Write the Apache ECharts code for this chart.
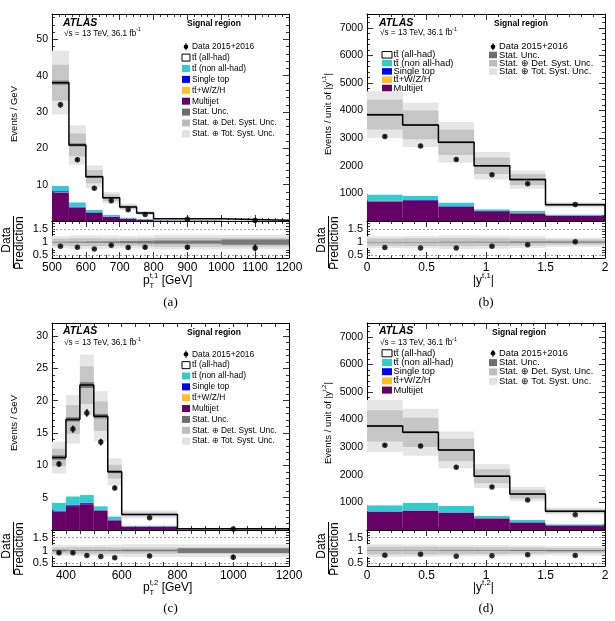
<!DOCTYPE html>
<html>
<head>
<meta charset="utf-8">
<script src="https://cdn.jsdelivr.net/npm/echarts@6/dist/echarts.min.js"></script>
<style>
html, body { margin: 0; padding: 0; background: #fff; }
#chart { width: 615px; height: 621px; }
</style>
</head>
<body>
<div id="chart"></div>
<script>
// (a) leading top pT
var aEdges = [500, 550, 600, 650, 700, 750, 800, 1000, 1200];
var aAllHad = [28.4, 15.8, 9.1, 4.7, 2.9, 1.6, 0.40, 0.13];
var aNonAllHad = [1.5, 1.2, 0.7, 0.45, 0.3, 0.2, 0.06, 0.02];
var aSingleTop = [0.3, 0.2, 0.15, 0.1, 0.06, 0.04, 0.02, 0.006];
var aTtV = [0.1, 0.05, 0.05, 0.03, 0.02, 0.01, 0.005, 0.002];
var aMultijet = [7.8, 3.7, 2.2, 1.1, 0.6, 0.35, 0.12, 0.04];
var aData = [32.0, 16.9, 9.0, 5.6, 3.1, 1.78, 0.49, 0.155];
var aDataErr = [0.8, 0.6, 0.4, 0.3, 0.25, 0.18, 0.05, 0.028];
var aStatUnc = [0.015, 0.02, 0.025, 0.03, 0.04, 0.05, 0.06, 0.1];
var aDetUnc = [0.13, 0.15, 0.15, 0.14, 0.14, 0.15, 0.17, 0.17];
var aTotUnc = [0.23, 0.26, 0.26, 0.25, 0.24, 0.25, 0.28, 0.27];
var aXLabels = [500, 600, 700, 800, 900, 1000, 1100, 1200];
var aYLabels = [10, 20, 30, 40, 50];

// (b) leading top |y|
var bEdges = [0, 0.3, 0.6, 0.9, 1.2, 1.5, 2.0];
var bAllHad = [2886, 2566, 2176, 1577, 1140, 354];
var bNonAllHad = [230, 150, 140, 60, 65, 40];
var bSingleTop = [18, 18, 14, 10, 8, 5];
var bTtV = [6, 6, 5, 3, 2, 1];
var bMultijet = [710, 740, 515, 350, 285, 190];
var bData = [3060, 2720, 2230, 1680, 1350, 600];
var bDataErr = [55, 52, 47, 41, 37, 17];
var bStatUnc = [0.01, 0.01, 0.012, 0.015, 0.02, 0.025];
var bDetUnc = [0.14, 0.15, 0.16, 0.15, 0.13, 0.1];
var bTotUnc = [0.22, 0.23, 0.26, 0.25, 0.22, 0.17];
var bXLabels = [0, 0.5, 1, 1.5, 2];
var bYLabels = [1000, 2000, 3000, 4000, 5000, 6000, 7000];

// (c) subleading top pT
var cEdges = [350, 400, 450, 500, 550, 600, 800, 1200];
var cAllHad = [7.0, 11.9, 17.0, 13.9, 6.9, 1.7, 0.08];
var cNonAllHad = [1.2, 1.3, 1.2, 0.55, 0.5, 0.15, 0.03];
var cSingleTop = [0.15, 0.15, 0.15, 0.1, 0.08, 0.04, 0.01];
var cTtV = [0.05, 0.05, 0.05, 0.04, 0.03, 0.01, 0.003];
var cMultijet = [2.8, 3.7, 4.0, 3.0, 1.5, 0.5, 0.08];
var cData = [10.2, 15.6, 18.1, 13.6, 6.5, 1.9, 0.15];
var cDataErr = [0.45, 0.55, 0.6, 0.52, 0.36, 0.1, 0.02];
var cStatUnc = [0.03, 0.02, 0.02, 0.02, 0.025, 0.03, 0.09];
var cDetUnc = [0.12, 0.13, 0.13, 0.13, 0.12, 0.12, 0.12];
var cTotUnc = [0.22, 0.22, 0.21, 0.22, 0.23, 0.25, 0.25];
var cXLabels = [400, 600, 800, 1000, 1200];
var cYLabels = [5, 10, 15, 20, 25, 30];

// (d) subleading top |y|
var dEdges = [0, 0.3, 0.6, 0.9, 1.2, 1.5, 2.0];
var dAllHad = [2870, 2565, 2020, 1447, 940, 474];
var dNonAllHad = [230, 255, 245, 70, 80, 35];
var dSingleTop = [15, 15, 15, 10, 8, 5];
var dTtV = [5, 5, 5, 3, 2, 1];
var dMultijet = [650, 700, 615, 420, 270, 165];
var dData = [3070, 3040, 2270, 1560, 1085, 550];
var dDataErr = [55, 55, 48, 40, 33, 17];
var dStatUnc = [0.01, 0.01, 0.012, 0.015, 0.02, 0.025];
var dDetUnc = [0.15, 0.15, 0.14, 0.13, 0.12, 0.1];
var dTotUnc = [0.25, 0.24, 0.23, 0.22, 0.2, 0.18];
var dXLabels = [0, 0.5, 1, 1.5, 2];
var dYLabels = [1000, 2000, 3000, 4000, 5000, 6000, 7000];

var ratioLabels = [0.5, 1, 1.5];

var FONT = '"Liberation Sans", Arial, Helvetica, sans-serif';
var SERIF = '"Liberation Serif", "Times New Roman", serif';
var COL = {
    mj: '#660066', ttv: '#ffbf26', st: '#0000ff', non: '#33cccc',
    stat: '#787878', det: '#c6c6c6', tot: '#e6e6e6'
};

var option = {
    animation: false,
    backgroundColor: '#fff',
    grid: [], xAxis: [], yAxis: [], series: []
};
var G = [];

function addAxis(list, grid, pos, cfg, labels, fs) {
    list.push({
        type: 'value', gridIndex: grid, position: pos,
        min: cfg.min, max: cfg.max, interval: cfg.interval,
        axisLine: {show: true, onZero: false, lineStyle: {color: '#000', width: 1}},
        axisTick: {show: true, inside: true, length: cfg.tick || 6, lineStyle: {color: '#000', width: 0.8}},
        minorTick: {show: !!cfg.minor, splitNumber: cfg.minor || 5, length: 3, lineStyle: {color: '#000', width: 0.8}},
        splitLine: {show: false},
        minorSplitLine: {show: false},
        axisLabel: labels ? {
            show: true, customValues: labels, color: '#000',
            fontFamily: FONT, fontSize: fs, margin: 4, hideOverlap: false,
            formatter: function (v) { return String(v); }
        } : {show: false}
    });
    return list.length - 1;
}

function rectSeries(xi, yi, rows, color, z) {
    return {
        type: 'custom', xAxisIndex: xi, yAxisIndex: yi, z: z, silent: true,
        encode: {x: [0, 1], y: [2, 3]},
        data: rows,
        renderItem: function (params, api) {
            var p0 = api.coord([api.value(0), api.value(3)]);
            var p1 = api.coord([api.value(1), api.value(2)]);
            var shape = echarts.graphic.clipRectByRect(
                {x: p0[0], y: p0[1], width: p1[0] - p0[0], height: p1[1] - p0[1]},
                {x: params.coordSys.x, y: params.coordSys.y, width: params.coordSys.width, height: params.coordSys.height});
            if (!shape) return null;
            return {type: 'rect', shape: shape, style: {fill: color}};
        }
    };
}

function errSeries(xi, yi, rows, z) {
    return {
        type: 'custom', xAxisIndex: xi, yAxisIndex: yi, z: z, silent: true,
        encode: {x: 0, y: 1},
        data: rows,
        renderItem: function (params, api) {
            var x = api.value(0), y = api.value(1), e = api.value(2);
            var t = api.coord([x, y + e]);
            var b = api.coord([x, y - e]);
            return {type: 'line', shape: {x1: t[0], y1: t[1], x2: b[0], y2: b[1]},
                style: {stroke: '#000', lineWidth: 1.3}};
        }
    };
}

function buildPanel(p) {
    var gM = option.grid.length;
    option.grid.push({left: p.left, top: p.top, width: p.width, height: p.mainH, outerBoundsMode: 'none'});
    option.grid.push({left: p.left, top: p.top + p.mainH, width: p.width, height: p.ratioH, outerBoundsMode: 'none'});
    var gR = gM + 1;

    var xM = addAxis(option.xAxis, gM, 'bottom', p.xCfg, null);
    addAxis(option.xAxis, gM, 'top', p.xCfg, null);
    var yM = addAxis(option.yAxis, gM, 'left', p.yCfg, p.yLabels, 10.5);
    addAxis(option.yAxis, gM, 'right', p.yCfg, null);
    var xR = addAxis(option.xAxis, gR, 'bottom', p.xCfg, p.xLabels, 12);
    addAxis(option.xAxis, gR, 'top', p.xCfg, null);
    var rCfg = {min: 0.4, max: 1.8, interval: 0.1, tick: 3};
    var yR = addAxis(option.yAxis, gR, 'left', rCfg, ratioLabels, 11);
    addAxis(option.yAxis, gR, 'right', rCfg, null);

    var e = p.edges, n = e.length - 1;
    var layers = [[p.mj, COL.mj], [p.ttv, COL.ttv], [p.st, COL.st], [p.non, COL.non], [p.had, '#ffffff']];
    var cum = [];
    for (var i = 0; i < n; i++) cum.push(0);
    layers.forEach(function (L) {
        var rows = [];
        for (var i = 0; i < n; i++) {
            rows.push([e[i], e[i + 1], cum[i], cum[i] + L[0][i]]);
            cum[i] += L[0][i];
        }
        option.series.push(rectSeries(xM, yM, rows, L[1], 1));
    });
    var total = cum;

    // uncertainty bands
    [[p.tot, COL.tot], [p.det, COL.det], [p.stat, COL.stat]].forEach(function (U) {
        var rowsM = [], rowsR = [];
        for (var i = 0; i < n; i++) {
            rowsM.push([e[i], e[i + 1], total[i] * (1 - U[0][i]), total[i] * (1 + U[0][i])]);
            rowsR.push([e[i], e[i + 1], 1 - U[0][i], 1 + U[0][i]]);
        }
        option.series.push(rectSeries(xM, yM, rowsM, U[1], 2));
        option.series.push(rectSeries(xR, yR, rowsR, U[1], 2));
    });

    // total prediction outline
    var step = [];
    for (var i = 0; i < n; i++) {
        step.push([e[i], total[i]]);
        step.push([e[i + 1], total[i]]);
    }
    step.push([e[n], 0]);
    option.series.push({
        type: 'line', xAxisIndex: xM, yAxisIndex: yM, data: step, z: 3,
        symbol: 'none', silent: true, clip: true,
        lineStyle: {color: '#000', width: 1.5}
    });

    // data and ratio
    var pts = [], errs = [], rPts = [], rErrs = [];
    for (var i = 0; i < n; i++) {
        var c = (e[i] + e[i + 1]) / 2;
        pts.push([c, p.data[i]]);
        errs.push([c, p.data[i], p.err[i]]);
        rPts.push([c, p.data[i] / total[i]]);
        rErrs.push([c, p.data[i] / total[i], p.err[i] / total[i]]);
    }
    option.series.push(errSeries(xM, yM, errs, 4));
    option.series.push({
        type: 'scatter', xAxisIndex: xM, yAxisIndex: yM, data: pts, z: 5, silent: true,
        symbol: 'circle', symbolSize: 5.5, itemStyle: {color: '#000'}
    });
    option.series.push(errSeries(xR, yR, rErrs, 4));
    option.series.push({
        type: 'scatter', xAxisIndex: xR, yAxisIndex: yR, data: rPts, z: 5, silent: true,
        symbol: 'circle', symbolSize: 5.5, itemStyle: {color: '#000'},
        markLine: {
            silent: true, symbol: 'none', label: {show: false},
            lineStyle: {color: '#8c8c8c', type: [2, 2], width: 0.8},
            data: [{yAxis: 0.5}, {yAxis: 1.5}]
        }
    });
}

var panels = [
    {edges: aEdges, mj: aMultijet, ttv: aTtV, st: aSingleTop, non: aNonAllHad, had: aAllHad,
        data: aData, err: aDataErr, stat: aStatUnc, det: aDetUnc, tot: aTotUnc,
        left: 52, top: 14, width: 237, mainH: 207, ratioH: 37,
        xCfg: {min: 500, max: 1200, interval: 100, minor: 5}, xLabels: aXLabels,
        yCfg: {min: 0, max: 57, interval: 10, minor: 5}, yLabels: aYLabels},
    {edges: bEdges, mj: bMultijet, ttv: bTtV, st: bSingleTop, non: bNonAllHad, had: bAllHad,
        data: bData, err: bDataErr, stat: bStatUnc, det: bDetUnc, tot: bTotUnc,
        left: 367, top: 14, width: 238, mainH: 207, ratioH: 37,
        xCfg: {min: 0, max: 2, interval: 0.5, minor: 5}, xLabels: bXLabels,
        yCfg: {min: 0, max: 7500, interval: 1000, minor: 5}, yLabels: bYLabels},
    {edges: cEdges, mj: cMultijet, ttv: cTtV, st: cSingleTop, non: cNonAllHad, had: cAllHad,
        data: cData, err: cDataErr, stat: cStatUnc, det: cDetUnc, tot: cTotUnc,
        left: 52, top: 323, width: 237, mainH: 207, ratioH: 36,
        xCfg: {min: 350, max: 1200, interval: 50, tick: 4}, xLabels: cXLabels,
        yCfg: {min: 0, max: 32, interval: 5, minor: 5}, yLabels: cYLabels},
    {edges: dEdges, mj: dMultijet, ttv: dTtV, st: dSingleTop, non: dNonAllHad, had: dAllHad,
        data: dData, err: dDataErr, stat: dStatUnc, det: dDetUnc, tot: dTotUnc,
        left: 367, top: 323, width: 238, mainH: 207, ratioH: 36,
        xCfg: {min: 0, max: 2, interval: 0.5, minor: 5}, xLabels: dXLabels,
        yCfg: {min: 0, max: 7500, interval: 1000, minor: 5}, yLabels: dYLabels}
];
panels.forEach(buildPanel);

// ---- texts ----
function T(x, y, s, fs, o) {
    o = o || {};
    var st = {
        text: s, fill: '#000', fontSize: fs, fontFamily: o.family || FONT,
        fontWeight: o.bold ? 'bold' : 'normal', fontStyle: o.italic ? 'italic' : 'normal',
        align: o.align || 'left', verticalAlign: 'middle'
    };
    if (o.rich) st.rich = o.rich;
    return {type: 'text', x: x, y: y, rotation: o.rot || 0, silent: true, z: 100, style: st};
}
function supRich(fs) {
    return {
        n: {fontSize: fs, fontFamily: FONT, lineHeight: fs * 1.5},
        s: {fontSize: fs * 0.65, fontFamily: FONT, verticalAlign: 'top'}
    };
}

var TT = 'tt\u0304';
var legendAll = [
    ['data', 'Data 2015+2016'], ['#ffffff', TT + ' (all-had)'], [COL.non, TT + ' (non all-had)'],
    [COL.st, 'Single top'], [COL.ttv, TT + '+W/Z/H'], [COL.mj, 'Multijet'],
    ['#6e6e6e', 'Stat. Unc.'], ['#bdbdbd', 'Stat. \u2295 Det. Syst. Unc.'], ['#e2e2e2', 'Stat. \u2295 Tot. Syst. Unc.']
];
var legendLeft = legendAll.slice(1, 6);
var legendRight = [legendAll[0], legendAll[6], legendAll[7], legendAll[8]];

function legendCol(items, boxX, textX, y0, dy, fs, bw, bh) {
    items.forEach(function (it, i) {
        var y = y0 + i * dy;
        if (it[0] === 'data') {
            var cx = boxX + bw / 2;
            G.push({type: 'line', silent: true, z: 100, shape: {x1: cx, y1: y - 3.5, x2: cx, y2: y + 3.5},
                style: {stroke: '#000', lineWidth: 1}});
            G.push({type: 'circle', silent: true, z: 100, shape: {cx: cx, cy: y, r: 2.3}, style: {fill: '#000'}});
        } else {
            G.push({type: 'rect', silent: true, z: 100, shape: {x: boxX, y: y - bh / 2, width: bw, height: bh},
                style: {fill: it[0], stroke: it[0] === '#ffffff' ? '#000' : null, lineWidth: 1}});
        }
        G.push(T(textX, y, it[1], fs));
    });
}

function headers(ax, ay, sy, rx, ry) {
    G.push(T(ax, ay, 'ATLAS', 10.5, {bold: true, italic: true}));
    G.push(T(ax + 1, sy, '{n|\u221As = 13 TeV, 36.1 fb}{s|-1}', 8.2, {rich: supRich(8.2)}));
    G.push(T(rx, ry, 'Signal region', 8.5, {bold: true}));
}

function ratioTitle(L, cy) {
    G.push(T(L - 45, cy - 3, 'Data', 12, {rot: Math.PI / 2, align: 'center'}));
    G.push({type: 'line', silent: true, z: 100, shape: {x1: L - 38.5, y1: cy - 27, x2: L - 38.5, y2: cy + 25},
        style: {stroke: '#000', lineWidth: 1}});
    G.push(T(L - 32.5, cy, 'Prediction', 12, {rot: Math.PI / 2, align: 'center'}));
}

// panel (a)
headers(63, 23, 33.5, 187, 24);
legendCol(legendAll, 182, 192, 46.7, 10.9, 8.4, 8, 7);
G.push(T(14, 114, 'Events / GeV', 9.5, {rot: Math.PI / 2, align: 'center'}));
ratioTitle(52, 243);
G.push(T(143, 281, '{n|p}{s|t,1}{n| [GeV]}', 12, {rich: supRich(12)}));
G.push(T(149.5, 286, 'T', 7.5));
G.push(T(170.5, 303, '(a)', 13, {family: SERIF, align: 'center'}));

// panel (b)
headers(379, 23.3, 33, 494, 24);
legendCol(legendLeft, 382, 393.5, 54.8, 8.3, 9.3, 10, 6.5);
legendCol(legendRight, 489, 499, 46.7, 8.3, 9.3, 8, 6.5);
G.push(T(328, 114, '{n|Events / unit of |y}{s|t,1}{n||}', 9.5, {rot: Math.PI / 2, align: 'center', rich: supRich(9.5)}));
ratioTitle(367, 243);
G.push(T(473, 281, '{n||y}{s|t,1}{n||}', 12, {rich: supRich(12)}));
G.push(T(486, 303, '(b)', 13, {family: SERIF, align: 'center'}));

// panel (c)
headers(63, 330.7, 343, 187, 332.5);
legendCol(legendAll, 182, 192, 354.3, 10.85, 8.4, 8, 7);
G.push(T(14, 423, 'Events / GeV', 9.5, {rot: Math.PI / 2, align: 'center'}));
ratioTitle(52, 549);
G.push(T(143, 588, '{n|p}{s|t,2}{n| [GeV]}', 12, {rich: supRich(12)}));
G.push(T(149.5, 593, 'T', 7.5));
G.push(T(170.5, 609, '(c)', 13, {family: SERIF, align: 'center'}));

// panel (d)
headers(379, 330.7, 343, 492, 332.7);
legendCol(legendLeft, 382, 393.5, 353.3, 9.2, 9.3, 10, 7);
legendCol(legendRight, 489, 499, 353.3, 9.3, 9.3, 8, 7);
G.push(T(328, 423, '{n|Events / unit of |y}{s|t,2}{n||}', 9.5, {rot: Math.PI / 2, align: 'center', rich: supRich(9.5)}));
ratioTitle(367, 549);
G.push(T(473, 588, '{n||y}{s|t,2}{n||}', 12, {rich: supRich(12)}));
G.push(T(486, 609, '(d)', 13, {family: SERIF, align: 'center'}));

option.graphic = {elements: G};

var chart = echarts.init(document.getElementById('chart'), null, {renderer: 'canvas'});
chart.setOption(option);
</script>
</body>
</html>
